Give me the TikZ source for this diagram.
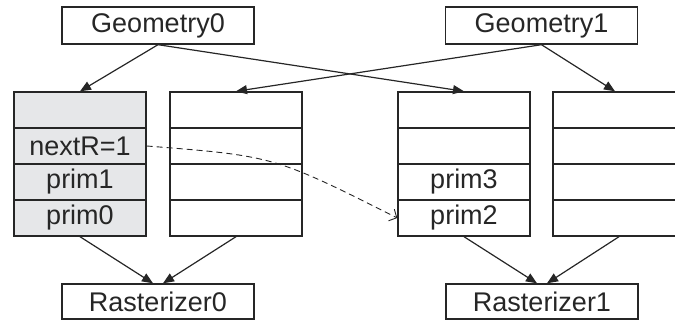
\documentclass[tikz,border=0pt]{standalone}
\usepackage{fontspec}
\setmainfont{Liberation Sans}
\usetikzlibrary{arrows.meta}
\definecolor{ink}{HTML}{262626}
\definecolor{qgray}{HTML}{E6E7E9}
\begin{document}
\begin{tikzpicture}[x=1pt,y=-1pt,
  every node/.style={font=\fontsize{27}{29}\selectfont, text=ink},
  unit/.style={draw=ink, line width=1.4pt, inner sep=0pt, minimum height=36pt, minimum width=192pt},
  cell/.style={draw=ink, line width=1.4pt, inner sep=0pt, minimum width=132pt, minimum height=36pt},
  busy/.style={cell, fill=qgray},
  feed/.style={draw=ink, line width=1.2pt, -{Triangle[length=11pt,width=9pt]}},
  hop/.style={draw=ink, line width=0.9pt, dash pattern=on 6pt off 4pt, -{Straight Barb[length=6pt,width=13pt,line width=0.9pt]}}
]
\useasboundingbox (0,0) rectangle (675,320);

% producers and consumers
\node[unit, minimum height=37pt] (g0) at (158,25.5) {Geometry0};
\node[unit, minimum height=37pt] (g1) at (541.5,25.5) {Geometry1};
\node[unit, minimum height=35pt] (r0) at (158,301.5) {Rasterizer0};
\node[unit, minimum height=35pt] (r1) at (542,301.5) {Rasterizer1};

% queue of Geometry0 towards Rasterizer0 (shaded)
\node[busy] (a1) at (80,110) {};
\node[busy] (a2) at (80,146) {nextR=1};
\node[busy] (a3) at (80,182) {prim1};
\node[busy] (a4) at (80,218) {prim0};
% queue of Geometry1 towards Rasterizer0
\node[cell] (b1) at (236,110) {};
\node[cell] (b2) at (236,146) {};
\node[cell] (b3) at (236,182) {};
\node[cell] (b4) at (236,218) {};
% queue of Geometry0 towards Rasterizer1
\node[cell] (c1) at (464,110) {};
\node[cell] (c2) at (464,146) {};
\node[cell] (c3) at (464,182) {prim3};
\node[cell] (c4) at (464,218) {prim2};
% queue of Geometry1 towards Rasterizer1
\node[cell] (d1) at (619,110) {};
\node[cell] (d2) at (619,146) {};
\node[cell] (d3) at (619,182) {};
\node[cell] (d4) at (619,218) {};

% inputs of the rasterizers, side by side
\coordinate (r0l) at ([xshift=-5pt]r0.north);
\coordinate (r0r) at ([xshift=5pt]r0.north);
\coordinate (r1l) at ([xshift=-5pt]r1.north);
\coordinate (r1r) at ([xshift=5pt]r1.north);
\coordinate (d1in) at ([xshift=-4pt]d1.north);

% geometry units fill the queues
\draw[feed] (g0.south) -- (a1.north);
\draw[feed] (g0.south) -- (c1.north);
\draw[feed] (g1.south) -- (b1.north);
\draw[feed] (g1.south) -- (d1in);

% rasterizers drain the queues
\draw[feed] (a4.south) -- (r0l);
\draw[feed] (b4.south) -- (r0r);
\draw[feed] (c4.south) -- (r1l);
\draw[feed] (d4.south) -- (r1r);

% next rasterizer pointer
\coordinate (bend) at (274,156);
\draw[hop] (a2.east) .. controls (bend) .. (c4.west);
\end{tikzpicture}
\end{document}
